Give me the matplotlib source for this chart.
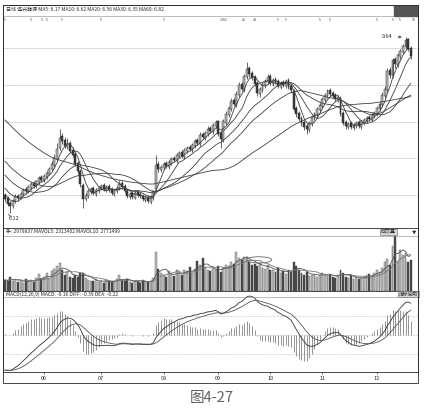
import numpy as np
import pandas as pd
import matplotlib
matplotlib.use("Agg")
import matplotlib.pyplot as plt
from matplotlib.patches import Rectangle, Ellipse

plt.rcParams['font.family'] = ['Noto Sans CJK SC', 'DejaVu Sans']

# price history before the visible window (only feeds the MA / MACD lines)
pre_close = [
    9.60, 9.52, 9.58, 9.45, 9.38, 9.42, 9.30, 9.22, 9.28, 9.15,
    9.05, 9.10, 8.98, 8.90, 8.95, 8.82, 8.74, 8.80, 8.66, 8.58,
    8.62, 8.50, 8.42, 8.48, 8.35, 8.28, 8.20, 8.26, 8.12, 8.05,
    7.98, 8.04, 7.90, 7.82, 7.76, 7.80, 7.68, 7.60, 7.52, 7.58,
    7.45, 7.38, 7.30, 7.35, 7.22, 7.15, 7.08, 7.12, 7.00, 6.92,
    6.85, 6.90, 6.78, 6.70, 6.64, 6.68, 6.58, 6.52, 6.45, 6.50]

opens = [
    6.48, 6.42, 6.32, 6.26, 6.36, 6.46, 6.42, 6.50, 6.60, 6.54,
    6.62, 6.72, 6.66, 6.74, 6.84, 6.76, 6.84, 6.90, 7.00, 7.08,
    7.20, 7.42, 7.66, 7.58, 7.44, 7.52, 7.38, 7.30, 7.12, 6.96,
    6.68, 6.40, 6.46, 6.54, 6.62, 6.50, 6.56, 6.62, 6.68, 6.58,
    6.66, 6.60, 6.50, 6.56, 6.62, 6.72, 6.66, 6.56, 6.44, 6.52,
    6.42, 6.54, 6.50, 6.46, 6.38, 6.44, 6.34, 6.42, 6.60, 7.10,
    6.98, 7.02, 7.12, 7.04, 7.12, 7.22, 7.16, 7.26, 7.34, 7.24,
    7.36, 7.44, 7.38, 7.46, 7.58, 7.50, 7.70, 7.62, 7.70, 7.82,
    7.74, 7.86, 7.96, 7.72, 7.58, 7.92, 8.08, 8.20, 8.38, 8.28,
    8.48, 8.70, 8.58, 8.84, 9.02, 8.92, 8.84, 8.72, 8.50, 8.58,
    8.68, 8.74, 8.86, 8.70, 8.80, 8.76, 8.64, 8.74, 8.66, 8.78,
    8.66, 8.56, 8.22, 8.12, 8.02, 7.94, 7.86, 7.78, 7.90, 8.02,
    8.08, 8.18, 8.26, 8.38, 8.46, 8.58, 8.52, 8.48, 8.38, 8.42,
    8.12, 7.94, 7.84, 7.92, 7.82, 7.86, 7.94, 7.84, 7.92, 7.96,
    8.04, 7.98, 8.06, 8.10, 8.20, 8.28, 8.46, 8.58, 8.98, 8.86,
    9.20, 9.08, 9.26, 9.34, 9.44, 9.60, 9.42]

highs = [
    6.52, 6.45, 6.36, 6.40, 6.50, 6.50, 6.54, 6.62, 6.64, 6.68,
    6.74, 6.76, 6.78, 6.86, 6.88, 6.90, 6.96, 7.04, 7.16, 7.30,
    7.52, 7.80, 7.72, 7.64, 7.62, 7.56, 7.44, 7.34, 7.16, 7.00,
    6.72, 6.52, 6.60, 6.64, 6.66, 6.62, 6.66, 6.70, 6.72, 6.68,
    6.70, 6.64, 6.60, 6.66, 6.78, 6.76, 6.70, 6.60, 6.54, 6.56,
    6.56, 6.58, 6.54, 6.50, 6.46, 6.48, 6.48, 6.58, 7.28, 7.16,
    7.08, 7.14, 7.16, 7.18, 7.24, 7.26, 7.32, 7.36, 7.38, 7.42,
    7.46, 7.48, 7.52, 7.60, 7.62, 7.74, 7.74, 7.76, 7.86, 7.86,
    7.92, 7.98, 7.98, 7.76, 7.99, 8.16, 8.26, 8.42, 8.42, 8.56,
    8.74, 8.74, 8.90, 9.14, 9.06, 8.96, 8.88, 8.76, 8.64, 8.74,
    8.80, 8.90, 8.90, 8.82, 8.84, 8.80, 8.76, 8.78, 8.80, 8.82,
    8.70, 8.60, 8.26, 8.16, 8.06, 7.98, 7.90, 7.96, 8.08, 8.14,
    8.24, 8.32, 8.44, 8.52, 8.60, 8.62, 8.56, 8.52, 8.48, 8.46,
    8.16, 7.98, 7.94, 7.96, 7.92, 7.96, 7.98, 7.98, 8.02, 8.06,
    8.08, 8.12, 8.16, 8.26, 8.34, 8.54, 8.66, 9.02, 9.04, 9.22,
    9.24, 9.32, 9.40, 9.50, 9.64, 9.62, 9.46]

lows = [
    6.34, 6.26, 6.12, 6.22, 6.32, 6.36, 6.40, 6.46, 6.50, 6.52,
    6.58, 6.62, 6.62, 6.70, 6.74, 6.74, 6.80, 6.88, 6.96, 7.04,
    7.16, 7.38, 7.50, 7.42, 7.40, 7.32, 7.24, 7.06, 6.90, 6.64,
    6.22, 6.36, 6.42, 6.50, 6.48, 6.46, 6.52, 6.58, 6.56, 6.54,
    6.54, 6.48, 6.46, 6.52, 6.58, 6.60, 6.52, 6.42, 6.40, 6.40,
    6.40, 6.44, 6.42, 6.36, 6.34, 6.32, 6.30, 6.38, 6.56, 6.94,
    6.94, 6.98, 7.02, 7.00, 7.08, 7.14, 7.12, 7.22, 7.22, 7.20,
    7.32, 7.36, 7.34, 7.42, 7.48, 7.46, 7.60, 7.58, 7.66, 7.72,
    7.70, 7.82, 7.66, 7.42, 7.54, 7.88, 8.04, 8.16, 8.26, 8.24,
    8.44, 8.56, 8.54, 8.80, 8.84, 8.78, 8.66, 8.46, 8.44, 8.54,
    8.62, 8.70, 8.68, 8.66, 8.70, 8.62, 8.60, 8.64, 8.62, 8.60,
    8.52, 8.16, 8.04, 7.96, 7.86, 7.78, 7.70, 7.74, 7.86, 7.98,
    8.04, 8.14, 8.22, 8.34, 8.42, 8.46, 8.42, 8.36, 8.34, 8.06,
    7.88, 7.80, 7.80, 7.80, 7.78, 7.82, 7.82, 7.80, 7.88, 7.92,
    7.96, 7.94, 8.02, 8.06, 8.16, 8.24, 8.42, 8.54, 8.82, 8.82,
    9.02, 9.04, 9.20, 9.30, 9.40, 9.36, 9.20]

closes = [
    6.40, 6.30, 6.25, 6.36, 6.45, 6.42, 6.50, 6.58, 6.55, 6.64,
    6.70, 6.66, 6.75, 6.82, 6.78, 6.85, 6.92, 7.00, 7.10, 7.22,
    7.40, 7.62, 7.55, 7.46, 7.50, 7.36, 7.28, 7.10, 6.95, 6.70,
    6.40, 6.48, 6.56, 6.60, 6.52, 6.58, 6.62, 6.66, 6.60, 6.64,
    6.58, 6.52, 6.56, 6.62, 6.70, 6.64, 6.55, 6.46, 6.50, 6.44,
    6.52, 6.48, 6.45, 6.40, 6.42, 6.36, 6.44, 6.55, 7.08, 7.00,
    7.04, 7.10, 7.06, 7.14, 7.20, 7.18, 7.28, 7.32, 7.26, 7.38,
    7.42, 7.40, 7.48, 7.55, 7.52, 7.68, 7.64, 7.72, 7.80, 7.76,
    7.88, 7.94, 7.70, 7.60, 7.95, 8.10, 8.22, 8.36, 8.30, 8.50,
    8.68, 8.60, 8.85, 9.00, 8.90, 8.82, 8.70, 8.52, 8.60, 8.70,
    8.76, 8.84, 8.72, 8.78, 8.74, 8.66, 8.72, 8.68, 8.76, 8.64,
    8.58, 8.20, 8.10, 8.00, 7.92, 7.84, 7.80, 7.92, 8.04, 8.10,
    8.20, 8.28, 8.40, 8.48, 8.56, 8.50, 8.46, 8.40, 8.44, 8.10,
    7.92, 7.86, 7.90, 7.84, 7.88, 7.92, 7.86, 7.95, 7.98, 8.02,
    8.00, 8.08, 8.12, 8.22, 8.30, 8.48, 8.60, 8.95, 8.88, 9.18,
    9.10, 9.28, 9.36, 9.45, 9.58, 9.40, 9.25]

# volume, in 10k shares
volumes = [
    160, 150, 210, 140, 180, 130, 150, 120, 170, 140,
    160, 130, 190, 250, 170, 200, 260, 180, 290, 320,
    360, 410, 300, 240, 280, 210, 190, 230, 200, 260,
    270, 190, 160, 150, 140, 170, 130, 150, 120, 160,
    140, 130, 150, 170, 230, 160, 140, 170, 130, 120,
    150, 130, 120, 160, 140, 130, 150, 190, 570, 320,
    260, 240, 210, 290, 250, 220, 300, 270, 230, 310,
    290, 350, 260, 320, 440, 380, 480, 350, 310, 290,
    330, 300, 360, 280, 340, 380, 360, 420, 400, 570,
    480, 450, 500, 490, 420, 380, 400, 360, 410, 340,
    320, 380, 300, 310, 280, 330, 260, 290, 250, 300,
    280, 420, 360, 300, 260, 240, 280, 220, 230, 250,
    210, 240, 260, 230, 220, 250, 200, 190, 230, 310,
    260, 210, 190, 230, 180, 200, 170, 190, 210, 230,
    250, 220, 270, 300, 280, 340, 420, 470, 380, 660,
    800, 420, 600, 520, 560, 430, 460]

month_pos = [15, 37, 61, 82, 102, 122, 143]
month_labels = ["06", "07", "08", "09", "10", "11", "12"]
ma_periods = [5, 10, 20, 30, 60]
grid_prices = [9.42, 8.68, 7.94, 7.22, 6.48]
# small info marks in the row under the price header
mark_pos = [0, 10, 14, 16, 22, 37, 61, 84, 92, 96, 105, 108, 121, 125, 143, 149, 152, 157]
mark_text = ["5", "5", "5", "5", "5", "5", "5", "2002", "45", "48", "5", "5",
             "5", "5", "5", "5", "5", "10"]

n = len(closes)
x = np.arange(n)
o = np.array(opens)
c = np.array(closes)
h = np.array(highs)
l = np.array(lows)
v = np.array(volumes)
up = c >= o

s = pd.Series(pre_close + closes)
npre = len(pre_close)
ema12 = s.ewm(span=12, adjust=False).mean()
ema26 = s.ewm(span=26, adjust=False).mean()
diff = ema12 - ema26
dea = diff.ewm(span=9, adjust=False).mean()
hist = 2 * (diff - dea)
diff = diff.values[npre:]
dea = dea.values[npre:]
hist = hist.values[npre:]

W, H = 424, 411
fig = plt.figure(figsize=(W / 100, H / 100), dpi=100)


def px_axes(x0, y0, x1, y1):
    return fig.add_axes([x0 / W, 1 - y1 / H, (x1 - x0) / W, (y1 - y0) / H])


dark = '#2a2a2a'
xl = (-0.77, 158.8)

# ---- price panel
ax = px_axes(3, 5, 418, 228)
ax.set_xlim(*xl)
ax.set_ylim(5.82, 10.28)
for gp in grid_prices:
    ax.axhline(gp, color='#b0b0b0', lw=0.6, ls=(0, (1, 1)), zorder=0)
ax.vlines(x, l, h, color=dark, lw=0.5, zorder=2)
body_lo = np.minimum(o, c)
body_h = np.maximum(np.abs(c - o), 0.015)
ax.bar(x[up], body_h[up], bottom=body_lo[up], width=0.75, color='#bdbdbd',
       edgecolor=dark, lw=0.35, zorder=3)
ax.bar(x[~up], body_h[~up], bottom=body_lo[~up], width=0.75, color='#3a3a3a',
       edgecolor=dark, lw=0.35, zorder=3)
for p in ma_periods:
    ma = s.rolling(p, min_periods=1).mean().values[npre:]
    ax.plot(x, ma, color='#404040', lw=0.6, zorder=4)
ax.annotate('6.12', xy=(0.3, 6.12), xytext=(1.3, 6.02), fontsize=4,
            color=dark, va='center',
            arrowprops=dict(arrowstyle='-', color=dark, lw=0.5))
ax.annotate('9.64', xy=(153.6, 9.64), xytext=(149.0, 9.64), fontsize=4,
            color=dark, va='center', ha='right',
            arrowprops=dict(arrowstyle='->', color=dark, lw=0.5))
ax.text(0.5, 10.2, '日线 远兴能源 MA5: 6.17 MA10: 6.62 MA20: 6.56 MA30: 6.35 MA60: 6.82',
        fontsize=3.6, color=dark, va='center')
ax.add_patch(Rectangle((149.5, 10.06), 9.3, 0.22, color='#555555', zorder=5))
ax.axhline(10.06, color='#888888', lw=0.4)
for mp, mt in zip(mark_pos, mark_text):
    ax.text(mp, 9.97, mt, fontsize=2.6, color='#444444', ha='center', va='center')
ax.set_xticks([])
ax.set_yticks([])
for sp in ax.spines.values():
    sp.set_linewidth(0.6)
    sp.set_color(dark)

# ---- volume panel
av = px_axes(3, 228, 418, 291)
av.set_xlim(*xl)
av.set_ylim(0, 920)
av.bar(x[up], v[up], width=0.75, color='#c0c0c0', edgecolor='#555555', lw=0.3)
av.bar(x[~up], v[~up], width=0.75, color='#4a4a4a', edgecolor='#404040', lw=0.3)
vs = pd.Series(volumes)
av.plot(x, vs.rolling(5, min_periods=1).mean(), color='#555555', lw=0.6)
av.plot(x, vs.rolling(10, min_periods=1).mean(), color='#777777', lw=0.6)
av.add_patch(Ellipse((97.7, 455), 9.6, 90, fill=False, ec='#777777', lw=0.7))
av.axhline(810, color='#888888', lw=0.4)
av.text(0.5, 865, '手: 2979837 MAVOL5: 2313402 MAVOL10: 2771499',
        fontsize=3.6, color=dark, va='center')
av.text(144.5, 865, '成交量', fontsize=3.6, color=dark, va='center',
        bbox=dict(boxstyle='square,pad=0.15', fc='#d8d8d8', ec='#666666', lw=0.4))
av.text(157.2, 865, '▼', fontsize=3.2, color=dark, va='center', ha='center')
av.set_xticks([])
av.set_yticks([])
for sp in av.spines.values():
    sp.set_linewidth(0.6)
    sp.set_color(dark)

# ---- MACD panel
am = px_axes(3, 291, 418, 372)
am.set_xlim(*xl)
k = abs(diff[0]) / 35.0
am.set_ylim(-37 * k, 44 * k)
for gy in (19 * k, 0, -19 * k):
    am.axhline(gy, color='#b8b8b8', lw=0.5, ls=(0, (1, 1)), zorder=0)
am.vlines(x, 0, hist, color='#777777', lw=0.55)
am.plot(x, diff, color='#333333', lw=0.6)
am.plot(x, dea, color='#555555', lw=0.6)
am.axhline(38 * k, color='#888888', lw=0.4)
am.text(0.3, 41 * k, 'MACD(12,26,9) MACD: -0.16 DIFF: -0.39 DEA: -0.22',
        fontsize=3.6, color=dark, va='center')
am.text(151.5, 41 * k, '指标说明', fontsize=3.4, color=dark, va='center',
        bbox=dict(boxstyle='square,pad=0.15', fc='#d8d8d8', ec='#666666', lw=0.4))
am.set_yticks([])
am.set_xticks(month_pos)
am.set_xticklabels(month_labels, fontsize=4, color=dark)
am.tick_params(axis='x', length=1.5, width=0.4, pad=1.5)
for sp in am.spines.values():
    sp.set_linewidth(0.6)
    sp.set_color(dark)

# outer frame and caption
fig.patches.append(Rectangle((3 / W, 1 - 383 / H), 415 / W, 378 / H,
                             transform=fig.transFigure, fill=False,
                             ec=dark, lw=0.6))
fig.text(212 / W, 1 - 398 / H, '图4-27', fontsize=10.5, color='#606060',
         ha='center', va='center')

plt.savefig('out.png', dpi=100)
